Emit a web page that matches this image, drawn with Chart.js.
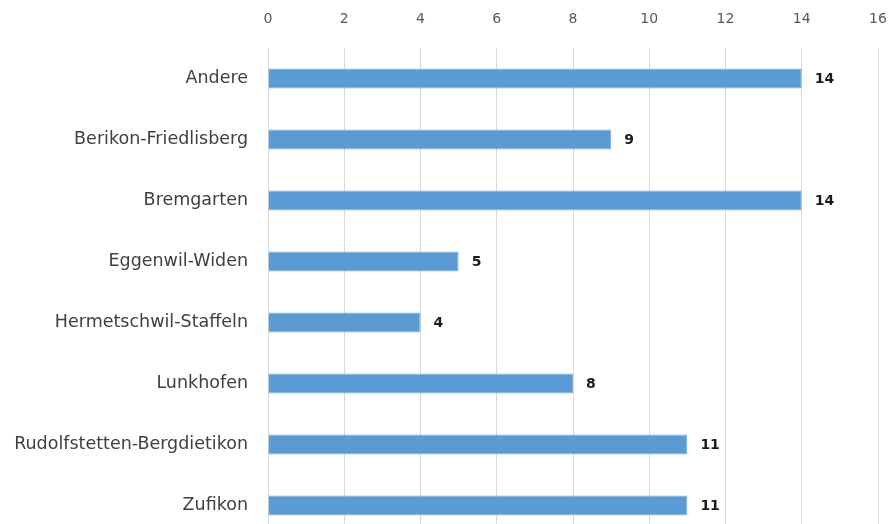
<!DOCTYPE html>
<html>
<head>
<meta charset="utf-8">
<script src="https://cdn.jsdelivr.net/npm/chart.js@4"></script>
<style>
  html, body { margin: 0; padding: 0; background: #fff; overflow: hidden; }
  canvas { display: block; }
</style>
</head>
<body>
<canvas id="chart" width="891" height="536"></canvas>
<script>
const categories = ["Andere", "Berikon-Friedlisberg", "Bremgarten", "Eggenwil-Widen",
  "Hermetschwil-Staffeln", "Lunkhofen", "Rudolfstetten-Bergdietikon", "Zufikon"];
const counts = [14, 9, 14, 5, 4, 8, 11, 11];
const xTicksMax = 16;
const xStep = 2;

const fontFamily = "'DejaVu Sans', sans-serif";

// draws the bold value next to every bar
const valueLabels = {
  id: "valueLabels",
  afterDatasetsDraw(chart) {
    const ctx = chart.ctx;
    ctx.save();
    ctx.font = "bold 14px " + fontFamily;
    ctx.fillStyle = "#1a1a1a";
    ctx.textBaseline = "middle";
    chart.getDatasetMeta(0).data.forEach((bar, i) => {
      ctx.fillText(counts[i], bar.x + 13, bar.y + 1);
    });
    ctx.restore();
  }
};

new Chart("chart", {
  type: "bar",
  data: {
    labels: categories,
    datasets: [{
      data: counts,
      backgroundColor: "#5b9bd5",
      borderColor: "#7fb2e0",
      borderWidth: 1,
      barPercentage: 0.66,
      categoryPercentage: 0.5
    }]
  },
  options: {
    indexAxis: "y",
    responsive: false,
    animation: false,
    layout: { padding: { left: 0, right: 13, top: 0, bottom: 0 } },
    plugins: { legend: { display: false }, tooltip: { enabled: false } },
    scales: {
      x: {
        position: "top",
        min: 0,
        max: xTicksMax,
        ticks: { stepSize: xStep, color: "#595959", padding: 20, font: { family: fontFamily, size: 14 } },
        grid: { color: "#d9d9d9", drawTicks: false },
        border: { display: false },
        afterFit(s) { s.height = 48; s.paddingLeft = 0; s.paddingRight = 0; }
      },
      y: {
        ticks: { color: "#404040", padding: 20, font: { family: fontFamily, size: 17.5 } },
        grid: { display: false, drawTicks: false },
        border: { display: false },
        afterFit(s) { s.width = 268; s.paddingTop = 0; s.paddingBottom = 0; }
      }
    }
  },
  plugins: [valueLabels]
});
</script>
</body>
</html>
